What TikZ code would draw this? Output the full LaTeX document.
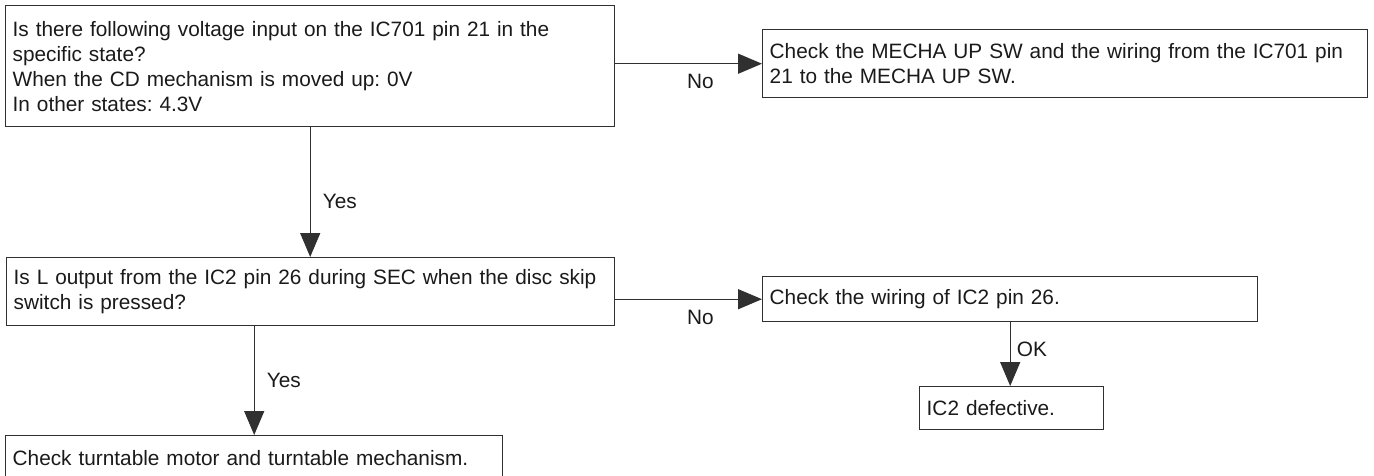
\documentclass[tikz,border=0pt]{standalone}
\usepackage{fontspec}
\setmainfont{Liberation Sans}
\usetikzlibrary{arrows.meta}
\definecolor{linec}{HTML}{303030}
\definecolor{textc}{HTML}{1A1A1A}
\frenchspacing
\begin{document}
\begin{tikzpicture}[x=1pt,y=-1pt,
  box/.style={draw=linec, line width=1.4pt, anchor=north west, align=left,
    inner xsep=7pt, inner ysep=0pt, text=textc, font=\fontsize{20.8}{25}\selectfont},
  lbl/.style={font=\fontsize{20.8}{25}\selectfont, inner sep=0pt, text=textc},
  arr/.style={draw=linec, line width=1.4pt, -{Triangle[length=24pt,width=20pt]}}]
\useasboundingbox (0,0) rectangle (1374,475);
\node[box, minimum width=609pt, minimum height=121pt, text width=595pt] (q1) at (5,5)
  {Is there following voltage input on the IC701 pin 21 in the\\specific state?\\When the CD mechanism is moved up: 0V\\In other states: 4.3V};
\node[box, minimum width=605pt, minimum height=68pt, text width=591pt] (c1) at (762,29)
  {Check the MECHA UP SW and the wiring from the IC701 pin\\21 to the MECHA UP SW.};
\node[box, minimum width=608pt, minimum height=68pt, text width=594pt] (q2) at (6,257)
  {Is L output from the IC2 pin 26 during SEC when the disc skip\\switch is pressed?};
\node[box, minimum width=495pt, minimum height=45pt, text width=481pt] (c2) at (762,276)
  {Check the wiring of IC2 pin 26.};
\node[box, minimum width=184pt, minimum height=43pt, text width=170pt] (d2) at (919,386)
  {IC2 defective.};
\node[box, minimum width=497pt, minimum height=45pt, text width=483pt] (c3) at (5,435)
  {Check turntable motor and turntable mechanism.};
\draw[arr] (q1.east |- c1.west) -- node[lbl, below=10pt, pos=0.58] {No} (c1.west);
\draw[arr] (q1.south) -- node[lbl, right=12pt, pos=0.57] {Yes} (q2.north -| q1.south);
\draw[arr] (q2.east |- c2.west) -- node[lbl, below=10pt, pos=0.58] {No} (c2.west);
\draw[arr] (c2.south) -- node[lbl, right=6pt, pos=0.43] {OK} (d2.north -| c2.south);
\draw[arr] (q2.south -| c3.north) -- node[lbl, right=12pt, pos=0.5] {Yes} (c3.north);
\end{tikzpicture}
\end{document}
